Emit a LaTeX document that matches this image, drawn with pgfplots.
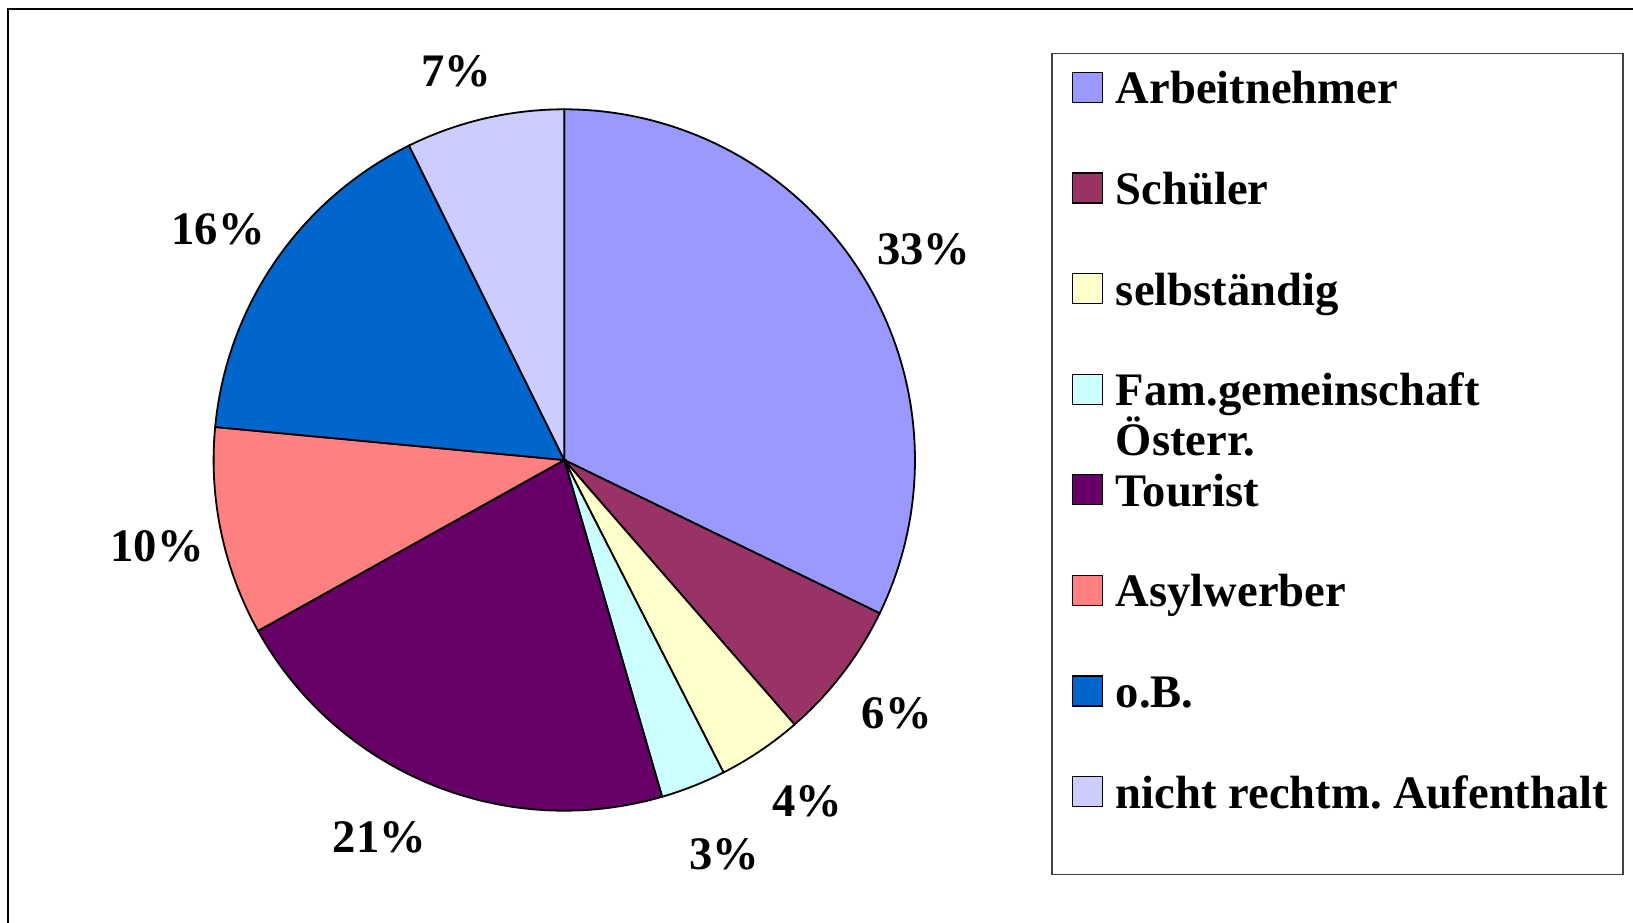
\documentclass[border=0pt]{standalone}
\usepackage{fontspec}
\setmainfont{Liberation Serif}
\usepackage{pgfplots}
\pgfplotsset{compat=1.18}
\frenchspacing
\definecolor{cA}{HTML}{9999FF}
\definecolor{cB}{HTML}{993366}
\definecolor{cC}{HTML}{FFFFCC}
\definecolor{cD}{HTML}{CCFFFF}
\definecolor{cE}{HTML}{660066}
\definecolor{cF}{HTML}{FF8080}
\definecolor{cG}{HTML}{0066CC}
\definecolor{cH}{HTML}{CCCCFF}
% slice shares in percent (clockwise from 12 o'clock)
\def\vA{32.2}\def\vB{6.4}\def\vC{3.9}\def\vD{3.0}
\def\vE{21.4}\def\vF{9.6}\def\vG{16.2}\def\vH{7.3}
\pgfmathsetmacro\aA{90-3.6*\vA}
\pgfmathsetmacro\aB{\aA-3.6*\vB}
\pgfmathsetmacro\aC{\aB-3.6*\vC}
\pgfmathsetmacro\aD{\aC-3.6*\vD}
\pgfmathsetmacro\aE{\aD-3.6*\vE}
\pgfmathsetmacro\aF{\aE-3.6*\vF}
\pgfmathsetmacro\aG{\aF-3.6*\vG}
\pgfmathsetmacro\aH{\aG-3.6*\vH}
\newcommand\bigfont{\fontsize{23.3}{28}\selectfont\bfseries}
\begin{document}
\begin{tikzpicture}
\useasboundingbox (-282.15pt,-231pt) rectangle (534.35pt,230pt);
\draw[line width=1pt] (-277.9pt,-240pt) -- (-277.9pt,225.5pt) -- (540pt,225.5pt);
\draw[line width=0.7pt, black!75] (243.85pt,203.25pt) rectangle (529.35pt,-207.25pt);
\begin{axis}[at={(0pt,0pt)}, anchor=center, scale only axis,
  width=350.7pt, height=350.7pt,
  xmin=-1, xmax=1, ymin=-1, ymax=1,
  hide axis, clip=false,
  every axis plot/.append style={draw=black, line width=0.9pt, mark=none},
  legend image code/.code={\draw[#1, draw=black, line width=0.6pt] (0pt,0.75pt) rectangle (15pt,15.75pt);},
  legend cell align=left,
  legend style={at={(1.2234,1.0589)}, anchor=north west, draw=none, fill=none,
    inner sep=0pt, outer sep=0pt, row sep=28.3pt, column sep=6.5pt,
    font=\bigfont,
    nodes={inner sep=0pt, text height=18pt, text depth=4pt, anchor=base west}},
]
\addplot[fill=cA, domain=\aA:90, samples=120] ({cos(x)},{sin(x)}) -- (axis cs:0,0) -- cycle;
\addlegendentry{Arbeitnehmer}
\addplot[fill=cB, domain=\aB:\aA, samples=40] ({cos(x)},{sin(x)}) -- (axis cs:0,0) -- cycle;
\addlegendentry{Schüler}
\addplot[fill=cC, domain=\aC:\aB, samples=30] ({cos(x)},{sin(x)}) -- (axis cs:0,0) -- cycle;
\addlegendentry{selbständig}
\addplot[fill=cD, domain=\aD:\aC, samples=30] ({cos(x)},{sin(x)}) -- (axis cs:0,0) -- cycle;
\addlegendentry{\rlap{\raisebox{-25pt}[0pt][0pt]{Österr.}}Fam.gemeinschaft}
\addplot[fill=cE, domain=\aE:\aD, samples=90] ({cos(x)},{sin(x)}) -- (axis cs:0,0) -- cycle;
\addlegendentry{Tourist}
\addplot[fill=cF, domain=\aF:\aE, samples=50] ({cos(x)},{sin(x)}) -- (axis cs:0,0) -- cycle;
\addlegendentry{Asylwerber}
\addplot[fill=cG, domain=\aG:\aF, samples=70] ({cos(x)},{sin(x)}) -- (axis cs:0,0) -- cycle;
\addlegendentry{o.B.}
\addplot[fill=cH, domain=\aH:\aG, samples=40] ({cos(x)},{sin(x)}) -- (axis cs:0,0) -- cycle;
\addlegendentry{nicht rechtm.\ Aufenthalt}
\node[font=\bigfont] at (axis cs:{1.189*cos(30.4)},{1.189*sin(30.4)}) {33\%};
\node[font=\bigfont] at (axis cs:{1.192*cos(-37.3)},{1.192*sin(-37.3)}) {6\%};
\node[font=\bigfont] at (axis cs:{1.194*cos(-54.5)},{1.194*sin(-54.5)}) {4\%};
\node[font=\bigfont] at (axis cs:{1.215*cos(-67.9)},{1.215*sin(-67.9)}) {3\%};
\node[font=\bigfont] at (axis cs:{1.198*cos(243.9)},{1.198*sin(243.9)}) {21\%};
\node[font=\bigfont] at (axis cs:{1.187*cos(192.0)},{1.187*sin(192.0)}) {10\%};
\node[font=\bigfont] at (axis cs:{1.186*cos(146.3)},{1.186*sin(146.3)}) {16\%};
\node[font=\bigfont] at (axis cs:{1.150*cos(105.5)},{1.150*sin(105.5)}) {7\%};
\end{axis}
\end{tikzpicture}
\end{document}
